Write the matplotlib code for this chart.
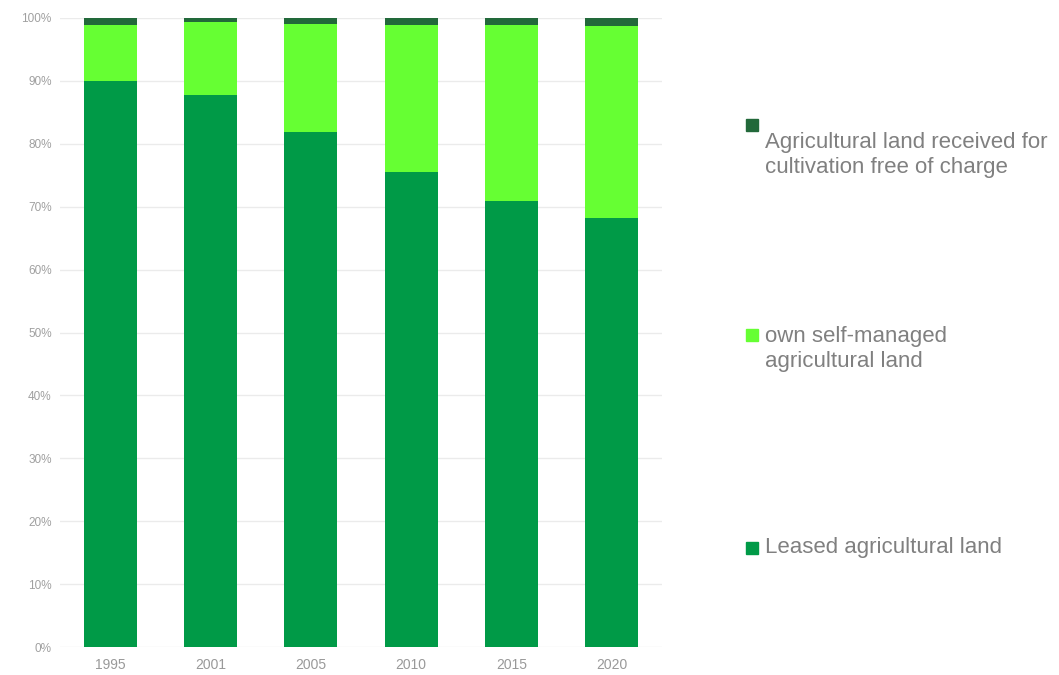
import matplotlib
matplotlib.use("Agg")
import matplotlib.pyplot as plt
from matplotlib.patches import Rectangle
import numpy as np

years = ["1995", "2001", "2005", "2010", "2015", "2020"]
leased = [90.0, 87.8, 81.9, 75.5, 70.9, 68.2]
own = [8.9, 11.5, 17.2, 23.4, 28.0, 30.6]
free = [1.1, 0.7, 0.9, 1.1, 1.1, 1.2]

labels = ["Leased agricultural land",
          "own self-managed\nagricultural land",
          "Agricultural land received for\ncultivation free of charge"]
colors = ["#009a47", "#66ff33", "#22693a"]

plt.rcParams['font.family'] = ['Liberation Sans', 'DejaVu Sans']

fig = plt.figure(figsize=(10.59, 6.75), dpi=100)
ax = fig.add_axes([60 / 1059, 1 - 647 / 675, 602 / 1059, 629 / 675])

x = np.arange(len(years))
bottom = np.zeros(len(years))
for vals, col in zip([leased, own, free], colors):
    ax.bar(x, vals, width=0.53, bottom=bottom, color=col, zorder=2)
    bottom += np.array(vals)

ax.set_xlim(-0.5, len(years) - 0.5)
ax.set_ylim(0, 100)
ax.set_yticks(np.arange(0, 101, 10))
ax.set_yticklabels([f"{v}%" for v in range(0, 101, 10)])
ax.set_xticks(x)
ax.set_xticklabels(years)
ax.tick_params(axis='y', length=0, pad=6, labelsize=8.5, labelcolor="#a0a0a0")
ax.tick_params(axis='x', length=0, pad=8, labelsize=10, labelcolor="#999999")
ax.grid(axis='y', color="#ebebeb", linewidth=1, zorder=0)
for s in ax.spines.values():
    s.set_visible(False)

# legend drawn by hand (top entry first, as in the source)
marker_y = [548, 335, 125]
text_y = [548, 349, 155]
for col, lab, my, ty in zip(colors, labels, marker_y, text_y):
    fig.patches.append(Rectangle((746 / 1059, 1 - (my + 6) / 675), 12 / 1059, 12 / 675,
                                 transform=fig.transFigure, color=col))
    fig.text(765 / 1059, 1 - ty / 675, lab, fontsize=16, color="#808080",
             va='center', ha='left', linespacing=1.2)

fig.savefig("out.png", dpi=100)
